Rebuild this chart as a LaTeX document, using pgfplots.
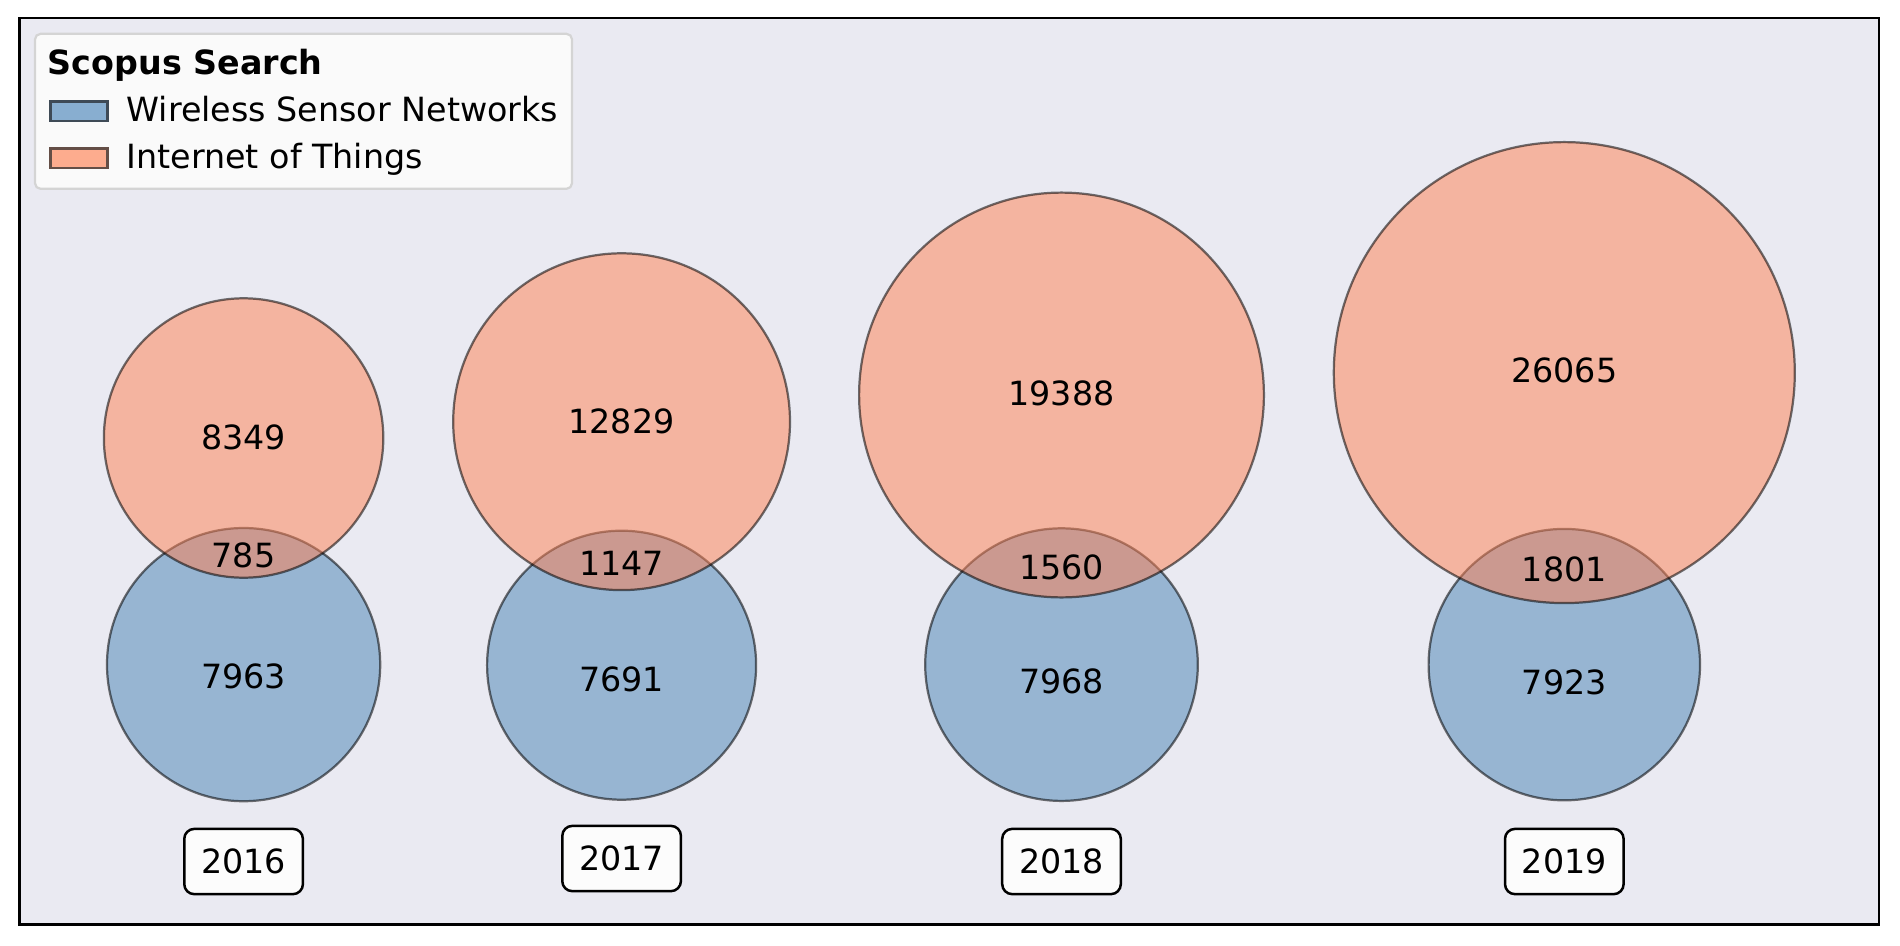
\documentclass[border=0pt]{standalone}
\usepackage{fontspec}
\setmainfont{DejaVu Sans}
\usepackage{pgfplots}
\pgfplotsset{compat=1.18}
\usepackage{pgfplotstable}
\definecolor{bgc}{RGB}{234,234,242}
\definecolor{wsn}{RGB}{70,130,180}
\definecolor{iot}{RGB}{255,127,80}
\definecolor{legfill}{RGB}{250,250,250}
\definecolor{legedge}{RGB}{212,212,212}
\definecolor{wsnpatch}{RGB}{136,174,208}
\definecolor{iotpatch}{RGB}{253,172,142}
\definecolor{wsnedge}{RGB}{62,74,86}
\definecolor{iotedge}{RGB}{100,78,70}
\definecolor{boxfill}{RGB}{252,252,252}

% circles in pixel units of the 1900x945 picture (y upwards)
\pgfplotstableread{
x y r
243.6 280.4 136.6
621.6 279.8 134.5
1061.5 280.4 136.3
1564.3 280.4 135.7
}\wsn
\pgfplotstableread{
x y r
243.6 507.0 139.7
621.6 523.3 168.4
1061.5 550.0 202.4
1564.3 572.4 230.5
}\iot
\pgfplotstableread{
x y label
243.6 507.6 8349
243.6 390.0 785
243.6 268.9 7963
621.6 523.3 12829
621.6 381.6 1147
621.6 265.2 7691
1061.5 551.2 19388
1061.5 377.9 1560
1061.5 264.0 7968
1564.3 574.2 26065
1564.3 375.5 1801
1564.3 262.8 7923
}\counts
\pgfplotstableread{
x y label
243.6 83.5 2016
621.6 86.5 2017
1061.5 83.5 2018
1564.3 83.5 2019
}\years

\begin{document}
\begin{tikzpicture}
\begin{axis}[
  scale only axis,
  width=669.56pt, height=326.27pt,
  xmin=19.4, xmax=1879.3, ymin=20.5, ymax=926.8,
  axis background/.style={fill=bgc},
  axis line style={black, line width=0.8pt},
  ticks=none,
  clip=false,
  legend cell align=left,
  legend image code/.code={\draw[sharp corners,#1] (0pt,-3.5pt) rectangle (20.5pt,3.5pt);
                           \path (27pt,0pt);},
  legend style={
    at={(0.0078,0.984)}, anchor=north west,
    fill=legfill, draw=legedge, line width=0.8pt, rounded corners=2pt,
    inner xsep=5pt, inner ysep=5pt,
    row sep=4.9pt, column sep=0pt,
    font=\fontsize{12}{14}\selectfont,
    nodes={inner sep=0pt, text height=9.6pt, text depth=2.4pt},
  },
]
\addplot[scatter, only marks, mark=*, forget plot,
  scatter/use mapped color={draw=black, draw opacity=0.55, fill=wsn, fill opacity=0.5, line width=0.8pt},
  visualization depends on={0.36*\thisrow{r} \as \rad},
  scatter/@pre marker code/.append style={/tikz/mark size=\rad pt},
] table[x=x, y=y, meta=r] {\wsn};
\addplot[scatter, only marks, mark=*, forget plot,
  scatter/use mapped color={draw=black, draw opacity=0.55, fill=iot, fill opacity=0.5, line width=0.8pt},
  visualization depends on={0.36*\thisrow{r} \as \rad},
  scatter/@pre marker code/.append style={/tikz/mark size=\rad pt},
] table[x=x, y=y, meta=r] {\iot};

\addplot[draw=none, mark=none, forget plot,
  nodes near coords, point meta=explicit symbolic,
  nodes near coords align={center},
  every node near coord/.append style={anchor=center, text=black, font=\fontsize{12}{14}\selectfont},
] table[x=x, y=y, meta=label] {\counts};

\addplot[draw=none, mark=none, forget plot,
  nodes near coords, point meta=explicit symbolic,
  nodes near coords align={center},
  every node near coord/.append style={anchor=center, text=black, font=\fontsize{12}{14}\selectfont,
    draw=black, line width=0.9pt, fill=boxfill, rounded corners=3.6pt,
    minimum width=42.7pt, minimum height=23.5pt, inner sep=0pt},
] table[x=x, y=y, meta=label] {\years};

\addlegendimage{empty legend}
\addlegendentry{\hspace{-28.35pt}\textbf{Scopus Search}}
\addlegendimage{fill=wsnpatch, draw=wsnedge, line width=1pt}
\addlegendentry{Wireless Sensor Networks}
\addlegendimage{fill=iotpatch, draw=iotedge, line width=1pt}
\addlegendentry{Internet of Things}

\path (rel axis cs:0,0) ++(-6.98pt,-7.38pt) coordinate (bbl);
\path (rel axis cs:1,1) ++(7.45pt,6.55pt) coordinate (btr);
\end{axis}
\useasboundingbox (bbl) rectangle (btr);
\end{tikzpicture}
\end{document}
